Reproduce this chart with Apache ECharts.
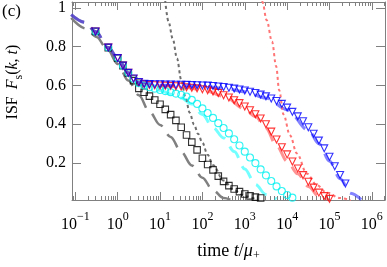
<!DOCTYPE html>
<html><head><meta charset="utf-8">
<script src="https://cdn.jsdelivr.net/npm/echarts@6/dist/echarts.min.js"></script>
<style>html,body{margin:0;padding:0;background:#fff}#c{width:387px;height:267px}</style>
</head><body><div id="c"></div>
<script>
// ---- data (time t/mu+, ISF values) ----
const markerTimes = [0.3, 0.6, 1, 1.33, 1.78, 2.37, 3.16, 4.22, 5.62, 7.5, 10, 13.3, 17.8, 23.7, 31.6, 42.2, 56.2, 75, 100, 133, 178, 237, 316, 422, 562, 750, 1000, 1330, 1780, 2370, 3160, 4220, 5620, 7500, 10000, 13300, 17800, 23700, 31600, 42200, 56200, 75000, 100000, 133000, 178000, 237000];
const blackSquares = [0.878, 0.795, 0.741, 0.702, 0.665, 0.625, 0.585, 0.565, 0.545, 0.525, 0.503, 0.477, 0.45, 0.42, 0.385, 0.345, 0.308, 0.268, 0.225, 0.193, 0.165, 0.133, 0.106, 0.084, 0.067, 0.053, 0.041, 0.031, 0.025, 0.02];
const cyanCircles = [0.878, 0.795, 0.741, 0.702, 0.665, 0.634, 0.612, 0.6, 0.591, 0.584, 0.577, 0.571, 0.565, 0.558, 0.552, 0.543, 0.526, 0.505, 0.482, 0.458, 0.433, 0.406, 0.381, 0.353, 0.323, 0.291, 0.259, 0.229, 0.2, 0.168, 0.137, 0.108, 0.08, 0.056, 0.036, 0.022];
const redTriangles = [0.878, 0.795, 0.741, 0.702, 0.665, 0.635, 0.616, 0.607, 0.603, 0.601, 0.6, 0.599, 0.598, 0.596, 0.594, 0.591, 0.588, 0.585, 0.58, 0.575, 0.569, 0.561, 0.55, 0.538, 0.524, 0.509, 0.492, 0.472, 0.452, 0.43, 0.4, 0.362, 0.322, 0.282, 0.245, 0.208, 0.172, 0.138, 0.104, 0.074, 0.048, 0.03, 0.016];
const blueTriangles = [0.878, 0.795, 0.741, 0.702, 0.665, 0.636, 0.618, 0.609, 0.607, 0.606, 0.606, 0.605, 0.605, 0.604, 0.604, 0.603, 0.602, 0.601, 0.6, 0.599, 0.597, 0.595, 0.592, 0.588, 0.584, 0.579, 0.574, 0.568, 0.561, 0.553, 0.544, 0.533, 0.52, 0.505, 0.486, 0.464, 0.441, 0.416, 0.385, 0.351, 0.316, 0.276, 0.233, 0.184, 0.139, 0.095];

const blueLineT = [0.08, 0.17, 0.3, 0.6, 1, 1.78, 3.16, 10, 31.6, 100, 316, 1000, 3160, 10000, 31600, 56200, 100000, 178000, 316000, 562000];
const blueLineV = [0.965, 0.925, 0.878, 0.795, 0.741, 0.665, 0.618, 0.603, 0.6, 0.596, 0.586, 0.568, 0.535, 0.475, 0.37, 0.3, 0.21, 0.12, 0.045, 0.012];
const redLineT = [0.08, 0.17, 0.3, 0.6, 1, 1.78, 3.16, 10, 31.6, 100, 316, 1000, 1780, 3160, 5620, 10000, 17800, 31600, 56200, 100000];
const redLineV = [0.965, 0.925, 0.878, 0.795, 0.741, 0.665, 0.616, 0.598, 0.593, 0.578, 0.545, 0.48, 0.44, 0.38, 0.29, 0.21, 0.145, 0.08, 0.03, 0.008];
const cyanLineT = [0.08, 0.17, 0.3, 0.6, 1, 1.78, 3.16, 5.62, 10, 17.8, 31.6, 56.2, 100, 178, 316, 562, 1000, 1780, 3160, 5620];
const cyanLineV = [0.965, 0.925, 0.878, 0.795, 0.741, 0.665, 0.612, 0.595, 0.575, 0.555, 0.535, 0.505, 0.45, 0.383, 0.33, 0.26, 0.17, 0.09, 0.038, 0.015];
const grayDashT = [0.08, 0.178, 0.316, 0.562, 1, 1.78, 3.16, 5.62, 10, 17.8, 31.6, 56.2, 100, 178, 316, 562];
const grayDashV = [0.948, 0.893, 0.85, 0.79, 0.71, 0.625, 0.55, 0.465, 0.397, 0.335, 0.258, 0.188, 0.125, 0.06, 0.02, 0.005];
const grayDotT = [13.2, 15.8, 20, 25.1, 31.6, 39.8, 50.1, 63.1, 79.4, 100, 133, 178, 316, 562, 1000, 1780];
const grayDotV = [1.04, 0.93, 0.84, 0.74, 0.63, 0.54, 0.46, 0.4, 0.35, 0.305, 0.243, 0.19, 0.11, 0.06, 0.03, 0.015];
const redDotT = [2400, 2600, 3300, 4400, 5500, 6500, 8200, 11700, 17000, 29000, 50000, 86000, 178000, 316000];
const redDotV = [1.065, 1.031, 0.936, 0.826, 0.7, 0.575, 0.451, 0.343, 0.25, 0.147, 0.087, 0.048, 0.02, 0.008];

const xMajorExp = [-1, 0, 1, 2, 3, 4, 5, 6];
const yMajor = [0.2, 0.4, 0.6, 0.8, 1];
const X_MIN = -1.078, X_MAX = 6.31, Y_MIN = 0.01, Y_MAX = 1.03;

// ---- build ----
const xMinor = [];
for (let n = -2; n <= 6; n++) for (let k = 2; k <= 9; k++) xMinor.push(Math.log10(k * Math.pow(10, n)));
const pts = (T, V) => V.map((v, i) => [Math.log10(T[i]), v]);
const FONT = '"Liberation Serif", "DejaVu Serif", serif';
const AX = '#808080';
function makeRich(fs) {
  return {
    n: { fontSize: fs, fontFamily: FONT, fill: '#000', color: '#000', verticalAlign: 'top' },
    g: { fontSize: fs, fontFamily: FONT, fill: '#000', color: '#000', verticalAlign: 'top', padding: [0, 7, 0, 0] },
    i: { fontSize: fs, fontFamily: FONT, fill: '#000', color: '#000', fontStyle: 'italic', verticalAlign: 'top' },
    sub: { fontSize: 12, fontFamily: FONT, fill: '#000', color: '#000', verticalAlign: 'bottom', padding: [8, 0, 0, 0] }
  };
}

function xAxisDef(pos, ticks, len, showLine, labels) {
  return {
    type: 'value', min: X_MIN, max: X_MAX, position: pos,
    axisLine: { show: showLine, onZero: false, lineStyle: { color: AX, width: 1 } },
    axisTick: { show: true, inside: true, length: len, customValues: ticks, lineStyle: { color: AX, width: 1 } },
    axisLabel: labels ? {
      customValues: xMajorExp, margin: 11, color: '#000', fontFamily: FONT,
      formatter: v => '{b|10}{s|' + (v < 0 ? '\u2212' + (-v) : v) + '}',
      rich: {
        b: { fontSize: 16, fontFamily: FONT, color: '#000', verticalAlign: 'bottom', padding: [6, 0, 0, 0] },
        s: { fontSize: 12, fontFamily: FONT, color: '#000', verticalAlign: 'top' }
      }
    } : { show: false },
    splitLine: { show: false }
  };
}
const xAxes = [xAxisDef('bottom', xMajorExp, 8, true, true), xAxisDef('bottom', xMinor, 4, false, false),
               xAxisDef('top', xMajorExp, 8, true, false), xAxisDef('top', xMinor, 4, false, false)];
xAxes[0].name = '{n|time }{i|t}{n|/}{i|\u03bc}{sub|+}';
xAxes[0].nameLocation = 'middle';
xAxes[0].nameGap = 42;
xAxes[0].nameTextStyle = { rich: makeRich(18) };

const yAxes = [
  {
    type: 'value', min: Y_MIN, max: Y_MAX, position: 'left',
    axisLine: { show: true, onZero: false, lineStyle: { color: AX } },
    axisTick: { inside: true, length: 9, customValues: yMajor, lineStyle: { color: AX } },
    axisLabel: { customValues: yMajor, color: '#000', fontSize: 16, fontFamily: FONT, margin: 6 },
    splitLine: { show: false }
  },
  {
    type: 'value', min: Y_MIN, max: Y_MAX, position: 'right',
    axisLine: { show: true, onZero: false, lineStyle: { color: AX } },
    axisTick: { inside: true, length: 9, customValues: yMajor, lineStyle: { color: AX } },
    axisLabel: { show: false }, splitLine: { show: false }
  }
];

function lineSeries(T, V, color, width, dash) {
  return { type: 'line', data: pts(T, V), showSymbol: false, smooth: 0.35, smoothMonotone: 'x', clip: true,
    lineStyle: { color, width, type: dash, cap: 'butt' }, z: 2, silent: true };
}
function markerSeries(V, symbol, rotate, size, color) {
  return { type: 'scatter', data: pts(markerTimes, V), symbol, symbolRotate: rotate, symbolSize: size, clip: true,
    itemStyle: { color: 'rgba(0,0,0,0)', borderColor: color, borderWidth: 1.1 }, z: 3, silent: true };
}

const chart = echarts.init(document.getElementById('c'), null, { renderer: 'canvas' });
chart.setOption({
  animation: false,
  backgroundColor: '#fff',
  grid: { left: 72, right: 2, top: 2, bottom: 46, containLabel: false },
  xAxis: xAxes,
  yAxis: yAxes,
  graphic: [
    { type: 'text', left: 2, top: 3, style: { text: '(c)', fontSize: 17, fontFamily: FONT, fill: '#000' } },
    { type: 'text', x: 15, y: 82, rotation: Math.PI / 2,
      style: { text: '{g|ISF}{i|F}{sub|s}{n|(}{i|k}{n|, }{i|t}{n|)}', rich: makeRich(16), align: 'center', verticalAlign: 'middle', fill: '#000' } }
  ],
  series: [
    lineSeries(grayDashT, grayDashV, '#808080', 2.5, [17, 9]),
    lineSeries(cyanLineT, cyanLineV, 'rgba(0,255,255,0.55)', 3, [15, 9]),
    lineSeries(redLineT, redLineV, 'rgba(255,40,40,0.5)', 3, [15, 9]),
    lineSeries(blueLineT, blueLineV, 'rgba(30,30,255,0.55)', 3, [15, 9]),
    lineSeries(grayDotT, grayDotV, '#6e6e6e', 2, [3, 3]),
    lineSeries(redDotT, redDotV, '#ff7474', 2, [3, 3]),
    markerSeries(blackSquares, 'rect', 0, 6.5, '#000000'),
    markerSeries(cyanCircles, 'circle', 0, 7, '#00f0f0'),
    markerSeries(redTriangles, 'triangle', 180, 7, '#ff0000'),
    markerSeries(blueTriangles, 'triangle', 180, 7, '#0000ff')
  ]
});
</script></body></html>
